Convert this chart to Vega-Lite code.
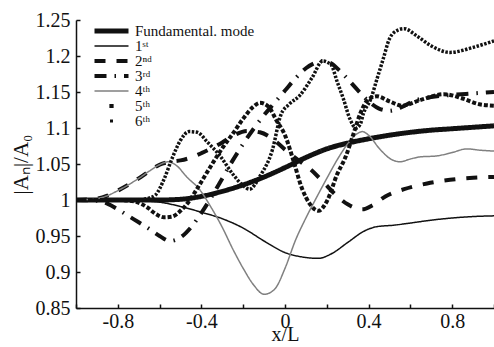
{
  "$schema": "https://vega.github.io/schema/vega-lite/v6.json",
  "width": 418,
  "height": 288,
  "autosize": "none",
  "padding": {"left": 76, "top": 20, "right": 0, "bottom": 39},
  "background": "white",
  "datasets": {
    "curves": [
      {"m":"F","x":-1,"y":1.0},{"m":"F","x":-0.8,"y":1.0},{"m":"F","x":-0.6,"y":1.0},{"m":"F","x":-0.5,"y":1.001},{"m":"F","x":-0.4,"y":1.005},{"m":"F","x":-0.3,"y":1.012},{"m":"F","x":-0.2,"y":1.021},{"m":"F","x":-0.1,"y":1.032},{"m":"F","x":0,"y":1.045},{"m":"F","x":0.1,"y":1.059},{"m":"F","x":0.2,"y":1.071},{"m":"F","x":0.3,"y":1.079},{"m":"F","x":0.4,"y":1.085},{"m":"F","x":0.5,"y":1.09},{"m":"F","x":0.6,"y":1.094},{"m":"F","x":0.7,"y":1.097},{"m":"F","x":0.8,"y":1.099},{"m":"F","x":0.9,"y":1.101},{"m":"F","x":1,"y":1.103},

      {"m":"1st","x":-1,"y":1.0},{"m":"1st","x":-0.8,"y":1.0},{"m":"1st","x":-0.7,"y":0.999},{"m":"1st","x":-0.6,"y":0.997},{"m":"1st","x":-0.5,"y":0.991},{"m":"1st","x":-0.4,"y":0.983},{"m":"1st","x":-0.3,"y":0.974},{"m":"1st","x":-0.2,"y":0.961},{"m":"1st","x":-0.1,"y":0.943},{"m":"1st","x":0,"y":0.927},{"m":"1st","x":0.08,"y":0.921},{"m":"1st","x":0.16,"y":0.919},{"m":"1st","x":0.22,"y":0.925},{"m":"1st","x":0.3,"y":0.941},{"m":"1st","x":0.38,"y":0.957},{"m":"1st","x":0.44,"y":0.963},{"m":"1st","x":0.52,"y":0.965},{"m":"1st","x":0.6,"y":0.968},{"m":"1st","x":0.7,"y":0.972},{"m":"1st","x":0.8,"y":0.975},{"m":"1st","x":0.9,"y":0.977},{"m":"1st","x":1,"y":0.978},

      {"m":"2nd","x":-1,"y":1.0},{"m":"2nd","x":-0.9,"y":1.002},{"m":"2nd","x":-0.85,"y":1.006},{"m":"2nd","x":-0.8,"y":1.013},{"m":"2nd","x":-0.75,"y":1.021},{"m":"2nd","x":-0.7,"y":1.03},{"m":"2nd","x":-0.65,"y":1.04},{"m":"2nd","x":-0.6,"y":1.049},{"m":"2nd","x":-0.55,"y":1.053},{"m":"2nd","x":-0.5,"y":1.055},{"m":"2nd","x":-0.45,"y":1.059},{"m":"2nd","x":-0.4,"y":1.065},{"m":"2nd","x":-0.35,"y":1.072},{"m":"2nd","x":-0.3,"y":1.08},{"m":"2nd","x":-0.25,"y":1.089},{"m":"2nd","x":-0.18,"y":1.096},{"m":"2nd","x":-0.12,"y":1.094},{"m":"2nd","x":-0.06,"y":1.085},{"m":"2nd","x":0,"y":1.07},{"m":"2nd","x":0.06,"y":1.056},{"m":"2nd","x":0.12,"y":1.043},{"m":"2nd","x":0.18,"y":1.026},{"m":"2nd","x":0.24,"y":1.008},{"m":"2nd","x":0.3,"y":0.994},{"m":"2nd","x":0.37,"y":0.987},{"m":"2nd","x":0.42,"y":0.993},{"m":"2nd","x":0.48,"y":1.005},{"m":"2nd","x":0.57,"y":1.015},{"m":"2nd","x":0.68,"y":1.023},{"m":"2nd","x":0.79,"y":1.028},{"m":"2nd","x":0.9,"y":1.031},{"m":"2nd","x":1,"y":1.032},

      {"m":"3rd","x":-1,"y":1.0},{"m":"3rd","x":-0.9,"y":0.999},{"m":"3rd","x":-0.85,"y":0.995},{"m":"3rd","x":-0.8,"y":0.987},{"m":"3rd","x":-0.75,"y":0.978},{"m":"3rd","x":-0.7,"y":0.969},{"m":"3rd","x":-0.65,"y":0.96},{"m":"3rd","x":-0.6,"y":0.95},{"m":"3rd","x":-0.55,"y":0.943},{"m":"3rd","x":-0.5,"y":0.948},{"m":"3rd","x":-0.45,"y":0.962},{"m":"3rd","x":-0.4,"y":0.982},{"m":"3rd","x":-0.35,"y":1.005},{"m":"3rd","x":-0.3,"y":1.03},{"m":"3rd","x":-0.25,"y":1.055},{"m":"3rd","x":-0.2,"y":1.078},{"m":"3rd","x":-0.15,"y":1.099},{"m":"3rd","x":-0.1,"y":1.118},{"m":"3rd","x":-0.05,"y":1.135},{"m":"3rd","x":0,"y":1.152},{"m":"3rd","x":0.05,"y":1.169},{"m":"3rd","x":0.1,"y":1.183},{"m":"3rd","x":0.15,"y":1.191},{"m":"3rd","x":0.18,"y":1.193},{"m":"3rd","x":0.22,"y":1.19},{"m":"3rd","x":0.26,"y":1.18},{"m":"3rd","x":0.3,"y":1.168},{"m":"3rd","x":0.35,"y":1.152},{"m":"3rd","x":0.4,"y":1.137},{"m":"3rd","x":0.45,"y":1.127},{"m":"3rd","x":0.5,"y":1.124},{"m":"3rd","x":0.55,"y":1.128},{"m":"3rd","x":0.62,"y":1.138},{"m":"3rd","x":0.7,"y":1.143},{"m":"3rd","x":0.8,"y":1.146},{"m":"3rd","x":0.9,"y":1.148},{"m":"3rd","x":1,"y":1.15},

      {"m":"4th","x":-1,"y":1.0},{"m":"4th","x":-0.9,"y":1.002},{"m":"4th","x":-0.85,"y":1.006},{"m":"4th","x":-0.8,"y":1.013},{"m":"4th","x":-0.75,"y":1.021},{"m":"4th","x":-0.7,"y":1.03},{"m":"4th","x":-0.65,"y":1.04},{"m":"4th","x":-0.6,"y":1.049},{"m":"4th","x":-0.56,"y":1.053},{"m":"4th","x":-0.52,"y":1.048},{"m":"4th","x":-0.47,"y":1.032},{"m":"4th","x":-0.41,"y":1.015},{"m":"4th","x":-0.35,"y":0.988},{"m":"4th","x":-0.3,"y":0.962},{"m":"4th","x":-0.25,"y":0.932},{"m":"4th","x":-0.2,"y":0.905},{"m":"4th","x":-0.15,"y":0.882},{"m":"4th","x":-0.1,"y":0.869},{"m":"4th","x":-0.05,"y":0.876},{"m":"4th","x":0,"y":0.905},{"m":"4th","x":0.05,"y":0.944},{"m":"4th","x":0.1,"y":0.975},{"m":"4th","x":0.15,"y":1.003},{"m":"4th","x":0.2,"y":1.03},{"m":"4th","x":0.25,"y":1.056},{"m":"4th","x":0.3,"y":1.078},{"m":"4th","x":0.35,"y":1.093},{"m":"4th","x":0.37,"y":1.095},{"m":"4th","x":0.4,"y":1.09},{"m":"4th","x":0.45,"y":1.072},{"m":"4th","x":0.5,"y":1.058},{"m":"4th","x":0.55,"y":1.053},{"m":"4th","x":0.6,"y":1.057},{"m":"4th","x":0.65,"y":1.06},{"m":"4th","x":0.72,"y":1.061},{"m":"4th","x":0.8,"y":1.066},{"m":"4th","x":0.87,"y":1.071},{"m":"4th","x":0.94,"y":1.069},{"m":"4th","x":1,"y":1.068},

      {"m":"5th","x":-1,"y":1.0},{"m":"5th","x":-0.8,"y":1.0},{"m":"5th","x":-0.72,"y":0.998},{"m":"5th","x":-0.66,"y":0.99},{"m":"5th","x":-0.62,"y":0.981},{"m":"5th","x":-0.58,"y":0.976},{"m":"5th","x":-0.54,"y":0.977},{"m":"5th","x":-0.5,"y":0.985},{"m":"5th","x":-0.46,"y":0.998},{"m":"5th","x":-0.42,"y":1.016},{"m":"5th","x":-0.38,"y":1.035},{"m":"5th","x":-0.34,"y":1.054},{"m":"5th","x":-0.3,"y":1.072},{"m":"5th","x":-0.25,"y":1.092},{"m":"5th","x":-0.2,"y":1.113},{"m":"5th","x":-0.15,"y":1.13},{"m":"5th","x":-0.12,"y":1.135},{"m":"5th","x":-0.08,"y":1.13},{"m":"5th","x":-0.04,"y":1.11},{"m":"5th","x":0,"y":1.09},{"m":"5th","x":0.04,"y":1.055},{"m":"5th","x":0.08,"y":1.017},{"m":"5th","x":0.12,"y":0.994},{"m":"5th","x":0.16,"y":0.985},{"m":"5th","x":0.2,"y":0.998},{"m":"5th","x":0.25,"y":1.036},{"m":"5th","x":0.29,"y":1.06},{"m":"5th","x":0.33,"y":1.094},{"m":"5th","x":0.36,"y":1.12},{"m":"5th","x":0.4,"y":1.14},{"m":"5th","x":0.44,"y":1.144},{"m":"5th","x":0.5,"y":1.137},{"m":"5th","x":0.56,"y":1.131},{"m":"5th","x":0.65,"y":1.139},{"m":"5th","x":0.76,"y":1.147},{"m":"5th","x":0.85,"y":1.141},{"m":"5th","x":0.93,"y":1.133},{"m":"5th","x":1,"y":1.131},

      {"m":"6th","x":-1,"y":1.0},{"m":"6th","x":-0.7,"y":1.0},{"m":"6th","x":-0.66,"y":1.002},{"m":"6th","x":-0.62,"y":1.007},{"m":"6th","x":-0.58,"y":1.028},{"m":"6th","x":-0.54,"y":1.058},{"m":"6th","x":-0.5,"y":1.083},{"m":"6th","x":-0.46,"y":1.095},{"m":"6th","x":-0.42,"y":1.094},{"m":"6th","x":-0.37,"y":1.08},{"m":"6th","x":-0.31,"y":1.061},{"m":"6th","x":-0.25,"y":1.036},{"m":"6th","x":-0.2,"y":1.02},{"m":"6th","x":-0.17,"y":1.015},{"m":"6th","x":-0.12,"y":1.033},{"m":"6th","x":-0.06,"y":1.07},{"m":"6th","x":-0.02,"y":1.118},{"m":"6th","x":0.02,"y":1.133},{"m":"6th","x":0.07,"y":1.145},{"m":"6th","x":0.13,"y":1.17},{"m":"6th","x":0.18,"y":1.193},{"m":"6th","x":0.22,"y":1.188},{"m":"6th","x":0.25,"y":1.164},{"m":"6th","x":0.28,"y":1.14},{"m":"6th","x":0.31,"y":1.113},{"m":"6th","x":0.34,"y":1.1},{"m":"6th","x":0.36,"y":1.105},{"m":"6th","x":0.375,"y":1.12},{"m":"6th","x":0.41,"y":1.14},{"m":"6th","x":0.44,"y":1.168},{"m":"6th","x":0.47,"y":1.196},{"m":"6th","x":0.5,"y":1.224},{"m":"6th","x":0.54,"y":1.236},{"m":"6th","x":0.57,"y":1.238},{"m":"6th","x":0.63,"y":1.228},{"m":"6th","x":0.7,"y":1.214},{"m":"6th","x":0.79,"y":1.205},{"m":"6th","x":0.9,"y":1.212},{"m":"6th","x":1,"y":1.221}
    ]
  },
  "data": {"name": "curves"},
  "mark": {"type": "line", "interpolate": "monotone", "strokeCap": "butt", "clip": true},
  "encoding": {
    "x": {
      "field": "x", "type": "quantitative",
      "scale": {"domain": [-1, 1], "nice": false, "zero": false},
      "axis": {
        "title": "x/L",
        "titleFontSize": 20,
        "values": [-1, -0.8, -0.6, -0.4, -0.2, 0, 0.2, 0.4, 0.6, 0.8, 1],
        "labelExpr": "datum.value == -0.8 ? '-0.8' : datum.value == -0.4 ? '-0.4' : datum.value == 0 ? '0' : datum.value == 0.4 ? '0.4' : datum.value == 0.8 ? '0.8' : ''",
        "labelPadding": 7,
        "titlePadding": -7
      }
    },
    "y": {
      "field": "y", "type": "quantitative",
      "scale": {"domain": [0.85, 1.25], "nice": false, "zero": false},
      "axis": {
        "title": "|Aₙ|/A₀",
        "values": [0.85, 0.9, 0.95, 1, 1.05, 1.1, 1.15, 1.2, 1.25],
        "format": "~g",
        "labelPadding": 10,
        "titlePadding": 4
      }
    },
    "color": {
      "field": "m", "type": "nominal",
      "scale": {"domain": ["F","1st","2nd","3rd","4th","5th","6th"], "range": ["#111111","#111111","#111111","#111111","#808080","#111111","#111111"]},
      "legend": {
        "title": null,
        "orient": "none",
        "legendX": 16,
        "legendY": 4,
        "padding": 0,
        "symbolType": "stroke",
        "symbolSize": 1156,
        "clipHeight": 14,
        "rowPadding": -1,
        "labelOffset": 4,
        "labelFont": "Liberation Serif",
        "labelFontSize": 15,
        "labelColor": "#111111",
        "labelExpr": "datum.value == 'F' ? 'Fundamental. mode' : datum.value == '1st' ? '1ˢᵗ' : datum.value == '2nd' ? '2ⁿᵈ' : datum.value == '3rd' ? '3ʳᵈ' : datum.value == '4th' ? '4ᵗʰ' : datum.value == '5th' ? '5ᵗʰ' : '6ᵗʰ'",
        "encode": {
          "symbols": {
            "update": {
              "shape": {"signal": "datum.value == '5th' || datum.value == '6th' ? 'square' : 'stroke'"},
              "size": {"signal": "datum.value == '5th' ? 18 : datum.value == '6th' ? 9 : 1156"},
              "fill": {"signal": "datum.value == '5th' || datum.value == '6th' ? '#111111' : 'transparent'"},
              "fillOpacity": {"signal": "datum.value == '5th' || datum.value == '6th' ? 1 : 0"},
              "strokeOpacity": {"signal": "datum.value == '5th' || datum.value == '6th' ? 0 : 1"}
            }
          }
        }
      }
    },
    "strokeWidth": {
      "field": "m", "type": "nominal",
      "scale": {"type": "ordinal", "domain": ["F","1st","2nd","3rd","4th","5th","6th"], "range": [5, 1.5, 4, 4, 1.5, 4, 3.5]}
    },
    "strokeDash": {
      "field": "m", "type": "nominal",
      "scale": {"domain": ["F","1st","2nd","3rd","4th","5th","6th"], "range": [[1,0],[1,0],[11,11],[12,8,1.5,8],[1,0],[4,2],[2.5,1.5]]}
    }
  },
  "config": {
    "view": {"stroke": null},
    "font": "Liberation Serif",
    "axis": {
      "grid": false,
      "domainColor": "#111111",
      "domainWidth": 1.5,
      "tickColor": "#111111",
      "tickWidth": 1.5,
      "tickSize": -4,
      "labelFont": "Liberation Serif",
      "labelFontSize": 20,
      "labelColor": "#111111",
      "labelOverlap": false,
      "labelFlush": false,
      "titleFont": "Liberation Serif",
      "titleFontSize": 21,
      "titleFontWeight": "normal",
      "titleColor": "#111111"
    }
  }
}
